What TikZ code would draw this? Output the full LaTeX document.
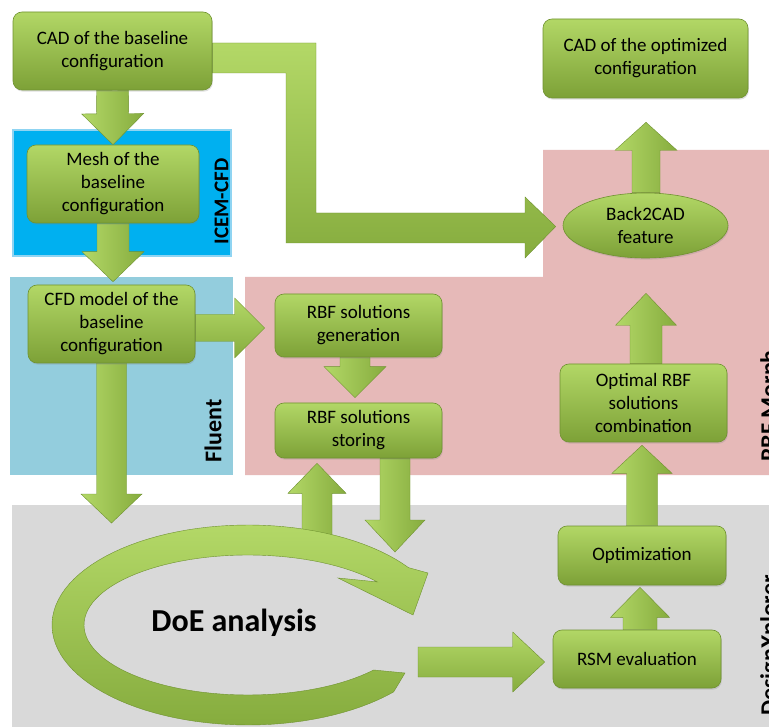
\documentclass[tikz,border=0pt]{standalone}
\usepackage{fontspec}
\setmainfont{Carlito}
\usetikzlibrary{calc,shapes.geometric,shadows}
\definecolor{gtop}{HTML}{B2D766}
\definecolor{gbot}{HTML}{7DA137}
\definecolor{gedge}{HTML}{6F9230}
\definecolor{alight}{HTML}{B3D867}
\definecolor{adark}{HTML}{86AC3E}
\definecolor{icemc}{HTML}{00B0F0}
\definecolor{icemb}{HTML}{8FD4F2}
\definecolor{fluentc}{HTML}{93CDDD}
\definecolor{pinkc}{HTML}{E6B9B8}
\definecolor{grayc}{HTML}{D9D9D9}
\pgfdeclarelayer{bg}
\pgfdeclarelayer{arr}
\pgfsetlayers{bg,arr,main}
\newdimen\ArAx \newdimen\ArAy \newdimen\ArBx \newdimen\ArBy \newdimen\ArCx \newdimen\ArCy
\newcommand{\blockarrow}[6]{%
  \coordinate (ArA) at #2;
  \coordinate (ArB) at #3;
  \pgfextractx{\ArAx}{\pgfpointanchor{ArA}{center}}%
  \pgfextracty{\ArAy}{\pgfpointanchor{ArA}{center}}%
  \pgfextractx{\ArBx}{\pgfpointanchor{ArB}{center}}%
  \pgfextracty{\ArBy}{\pgfpointanchor{ArB}{center}}%
  \pgfmathsetmacro\ArLen{veclen(\ArBx-\ArAx,\ArBy-\ArAy)}%
  \pgfmathsetmacro\ArUx{(\ArBx-\ArAx)/\ArLen}%
  \pgfmathsetmacro\ArUy{(\ArBy-\ArAy)/\ArLen}%
  \pgfmathsetlength\ArCx{\ArBx-(\ArUx)*#6pt}%
  \pgfmathsetlength\ArCy{\ArBy-(\ArUy)*#6pt}%
  \shade[#1] ({\ArAx-(\ArUy)*#4pt},{\ArAy+(\ArUx)*#4pt})
    -- ({\ArCx-(\ArUy)*#4pt},{\ArCy+(\ArUx)*#4pt})
    -- ({\ArCx-(\ArUy)*#5pt},{\ArCy+(\ArUx)*#5pt})
    -- (ArB)
    -- ({\ArCx+(\ArUy)*#5pt},{\ArCy-(\ArUx)*#5pt})
    -- ({\ArCx+(\ArUy)*#4pt},{\ArCy-(\ArUx)*#4pt})
    -- ({\ArAx+(\ArUy)*#4pt},{\ArAy-(\ArUx)*#4pt}) -- cycle;
}
\tikzset{
  gbox/.style={rounded corners=9pt, top color=gtop, bottom color=gbot, draw=gedge,
    line width=0.6pt, align=center, inner sep=0pt, text=black,
    font=\fontsize{19}{23}\selectfont,
    drop shadow={opacity=0.25, shadow xshift=0.8pt, shadow yshift=-1.6pt}},
  varr/.style={left color=alight, right color=adark, draw=gedge, line width=0.4pt},
  harr/.style={top color=alight, bottom color=adark, draw=gedge, line width=0.4pt},
  lbl/.style={inner sep=0pt, text=black, rotate=90},
}
\begin{document}
\begin{tikzpicture}[x=1pt,y=-1pt]
\useasboundingbox (0,0) rectangle (769,727);
\begin{pgfonlayer}{bg}
  \fill[white] (0,0) rectangle (769,727);
  \fill[grayc] (12,505) rectangle (769,727);
  \fill[pinkc] (245,277) -- (543,277) -- (543,150) -- (769,150) -- (769,475) -- (245,475) -- cycle;
  \fill[fluentc] (10,277) rectangle (233,475);
  \filldraw[fill=icemc, draw=icemb, line width=2pt] (13,130) rectangle (231,256);
\end{pgfonlayer}

% region labels
\node[lbl, font=\bfseries\fontsize{21}{21}\selectfont] (licem) at (221.5,201.5) {ICEM-CFD};
\node[lbl, font=\bfseries\fontsize{24}{24}\selectfont] (lfluent) at (213,431) {Fluent};
\node[lbl, anchor=north east, font=\bfseries\fontsize{24}{24}\selectfont] (lrbf) at (760,350) {RBF Morph};
\node[lbl, anchor=north east, font=\bfseries\fontsize{24}{24}\selectfont] (ldx) at (760,575) {DesignXplorer};

% boxes
\node[gbox, minimum width=199pt, minimum height=78pt] (cad) at (112.5,51) {CAD of the baseline\\configuration};
\node[gbox, minimum width=172pt, minimum height=78pt] (mesh) at (113,184) {Mesh of the\\baseline\\configuration};
\node[gbox, minimum width=167pt, minimum height=78pt] (cfd) at (111.5,324) {CFD model of the\\baseline\\configuration};
\node[gbox, minimum width=167pt, minimum height=63pt] (gen) at (358.5,325.5) {RBF solutions\\generation};
\node[gbox, minimum width=167pt, minimum height=55pt] (store) at (358.5,430.5) {RBF solutions\\storing};
\node[gbox, minimum width=205pt, minimum height=79pt] (cadopt) at (645.5,58.5) {CAD of the optimized\\configuration};
\node[gbox, ellipse, minimum width=165pt, minimum height=65pt] (b2c) at (645.5,225.5) {Back2CAD\\feature};
\node[gbox, minimum width=167pt, minimum height=78pt] (optrbf) at (643.5,403) {Optimal RBF\\solutions\\combination};
\node[gbox, minimum width=168pt, minimum height=59pt] (optim) at (642,555.5) {Optimization};
\node[gbox, minimum width=168pt, minimum height=58pt] (rsm) at (637,659) {RSM evaluation};

\node[inner sep=0pt, font=\bfseries\fontsize{32}{32}\selectfont] (doe) at (234,623) {DoE analysis};

\coordinate (doetop) at (111.5,523);
\coordinate (ringA) at (317,535);
\coordinate (ringB) at (395,552);
\coordinate (ringC) at (418,662);

\begin{pgfonlayer}{arr}
  \blockarrow{varr}{(cad.south)}{(mesh.north)}{16}{31}{31}
  \blockarrow{varr}{(mesh.south)}{($(mesh.south |- cfd.north)+(0,-3)$)}{16}{31}{30}
  \blockarrow{varr}{(cfd.south)}{(doetop)}{15}{30.5}{29}
  \blockarrow{harr}{($(cfd.east)+(0,4)$)}{($(cfd.east -| gen.west)+(-10,4)$)}{13.5}{30}{30}
  \blockarrow{varr}{($(gen.south)+(-3.5,0)$)}{($(store.north)+(-3.5,-5)$)}{15}{31}{31}
  \blockarrow{varr}{(ringA)}{($(store.south)+(-41.5,5)$)}{15}{29}{30}
  \blockarrow{varr}{($(store.south)+(36.5,0)$)}{(ringB)}{15}{30}{32}
  \blockarrow{harr}{(ringC)}{($(rsm.west)+(-8,3)$)}{15}{30}{32}
  \blockarrow{varr}{($(rsm.north)+(3,0)$)}{($(optim.south)+(-2,2)$)}{17}{29.5}{30}
  \blockarrow{varr}{(optim.north)}{($(optrbf.south)+(-1.5,3)$)}{15.5}{30}{28}
  \blockarrow{varr}{($(optrbf.north)+(2.5,0)$)}{($(b2c.south)+(0.5,35)$)}{16}{30.5}{32}
  \blockarrow{varr}{($(b2c.north)+(0.5,0)$)}{($(cadopt.south)+(0.5,24)$)}{14}{31}{28}
  % bent arrow from the baseline CAD to Back2CAD
  \shade[harr] ($(cad.east)+(0,-8)$) -- (316,43) -- (316,213) -- (525,213) -- (525,197)
    -- ($(b2c.west)+(-7,1)$) -- (525,258) -- (525,243) -- (286,243) -- (286,73)
    -- ($(cad.east)+(0,22)$) -- cycle;
  % DoE circular arrow
  \shade[top color=alight, bottom color=adark, draw=gedge, line width=0.4pt]
    (405,673) -- plot[variable=\t, domain=42:325, samples=90] ({248+196*cos(\t)},{625+100*sin(\t)})
    -- (428,573) -- (413,615) -- (338,578)
    -- plot[variable=\t, domain=322:40, samples=90] ({248+164*cos(\t)},{625+70*sin(\t)})
    -- cycle;
\end{pgfonlayer}
\end{tikzpicture}
\end{document}
